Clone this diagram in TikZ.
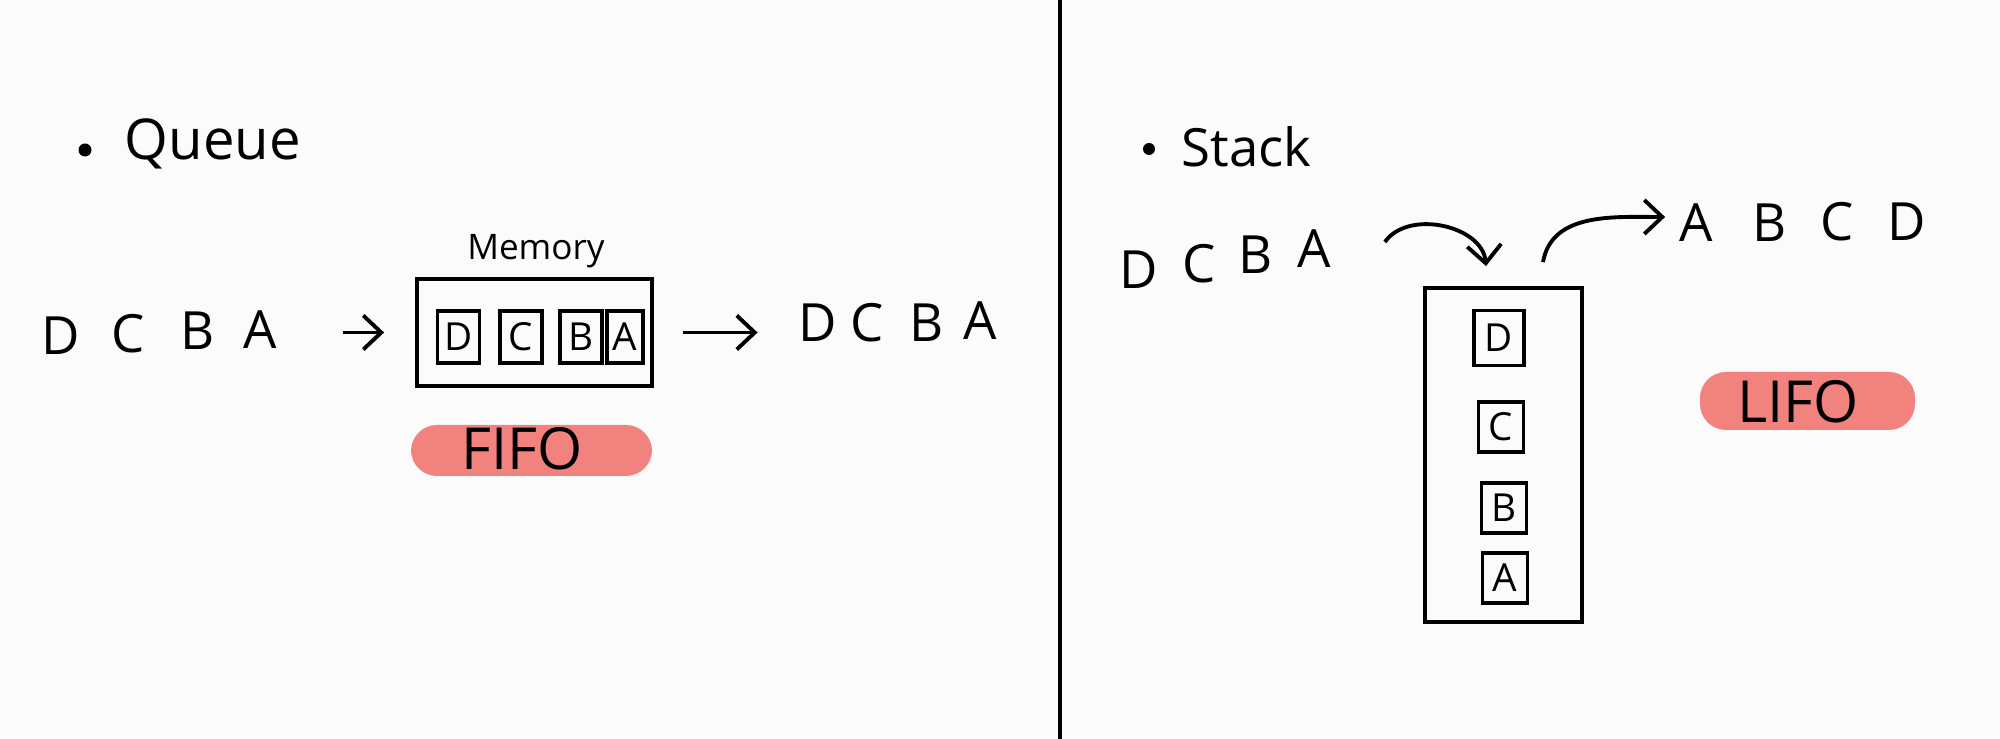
\documentclass[tikz,border=0pt]{standalone}
\usepackage{fontspec}
\setmainfont{Open Sans}
\usepackage{tikz}
\usetikzlibrary{arrows.meta}
\definecolor{paper}{RGB}{251,251,251}
\definecolor{salmon}{RGB}{242,130,126}

\begin{document}
\begin{tikzpicture}[>={Straight Barb[length=1.8mm,width=3.4mm]},
  letter/.style={inner sep=1pt,font=\fontsize{15}{15}\selectfont},
  title/.style={anchor=west,inner sep=0pt,font=\fontsize{16}{16}\selectfont},
  cell/.style={draw,line width=1pt,minimum width=0.42cm,minimum height=0.52cm,inner sep=0pt,font=\fontsize{11}{11}\selectfont},
  box/.style={draw,line width=1.1pt},
  flow/.style={->,line width=1.1pt},
  hilite/.style={fill=salmon,rounded corners=0.26cm,inner sep=0pt},
  tag/.style={inner sep=0pt,font=\fontsize{16.5}{16.5}\selectfont}]
\fill[paper](0,0)rectangle(20,7.39);
\useasboundingbox(0,0)rectangle(20,7.39);
\draw[line width=1.3pt](10.6,0)--(10.6,7.39);
\fill(0.85,5.89)circle[radius=0.065cm];
\node[title](qtitle)at(1.24,5.95){Queue};
\fill(11.49,5.90)circle[radius=0.06cm];
\node[title,font=\fontsize{15}{15}\selectfont](stitle)at(11.81,5.92){Stack};

\node[letter](qD)at(0.61,4.03){D};
\node[letter](qC)at(1.28,4.05){C};
\node[letter](qB)at(1.98,4.08){B};
\node[letter](qA)at(2.60,4.09){A};
\node[box,minimum width=2.35cm,minimum height=1.07cm](qmem)at(5.345,4.065){};
\node[font=\fontsize{10}{10}\selectfont](qlabel)at(5.36,4.88){Memory};
\node[cell](qcD)at(4.585,4.02){D};
\node[cell](qcC)at(5.21,4.02){C};
\node[cell](qcB)at(5.81,4.02){B};
\node[cell,minimum width=0.36cm](qcA)at(6.25,4.02){A};
\node[letter](qoD)at(8.18,4.16){D};
\node[letter](qoC)at(8.67,4.16){C};
\node[letter](qoB)at(9.27,4.16){B};
\node[letter](qoA)at(9.80,4.18){A};
\draw[flow,shorten <=0.62cm,shorten >=0.31cm](qA.east|-qmem.west)--(qmem.west);
\draw[flow,shorten <=0.29cm,shorten >=0.37cm](qmem.east)--(qoD.west|-qmem.east);
\node[hilite,minimum width=2.41cm,minimum height=0.51cm](qfifobg)at(5.315,2.885){};
\node[tag](qfifo)at(5.22,2.90){FIFO};

\node[letter](sD)at(11.39,4.69){D};
\node[letter](sC)at(11.99,4.75){C};
\node[letter](sB)at(12.56,4.84){B};
\node[letter](sA)at(13.14,4.90){A};
\node[box,minimum width=1.57cm,minimum height=3.34cm](smem)at(15.035,2.84){};
\node[cell,minimum width=0.5cm,minimum height=0.55cm](scD)at(14.99,4.01){D};
\node[cell,minimum width=0.45cm,minimum height=0.5cm](scC)at(15.01,3.12){C};
\node[cell,minimum width=0.45cm,minimum height=0.5cm](scB)at(15.04,2.31){B};
\node[cell,minimum width=0.45cm,minimum height=0.5cm](scA)at(15.05,1.61){A};
\node[letter](soA)at(16.96,5.16){A};
\node[letter](soB)at(17.70,5.16){B};
\node[letter](soC)at(18.37,5.17){C};
\node[letter](soD)at(19.07,5.17){D};
\draw[flow]([xshift=0.5cm,yshift=0.07cm]sA.east)to[out=55,in=95]([xshift=-0.175cm,yshift=0.2cm]smem.north);
\draw[flow]([xshift=0.395cm,yshift=0.24cm]smem.north)to[out=80,in=180]([xshift=-0.1cm,yshift=0.06cm]soA.west);
\node[hilite,minimum width=2.15cm,minimum height=0.58cm](slifobg)at(18.075,3.38){};
\node[tag](slifo)at(17.98,3.37){LIFO};
\end{tikzpicture}
\end{document}
